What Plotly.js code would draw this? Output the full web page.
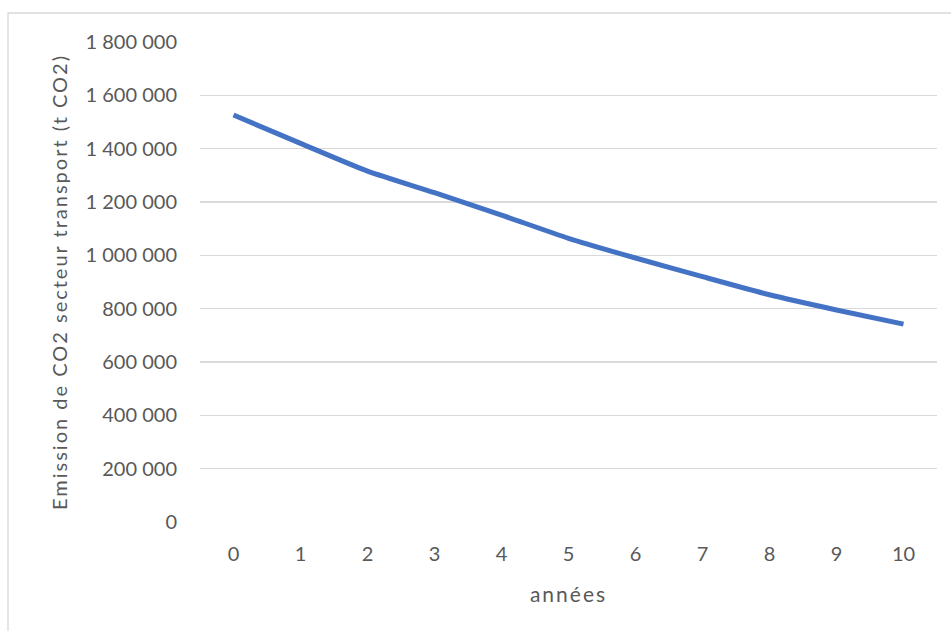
<!DOCTYPE html>
<html>
<head>
<meta charset="utf-8">
<script src="https://cdn.plot.ly/plotly-3.0.1.min.js"></script>
<style>
  html, body { margin: 0; padding: 0; background: #ffffff; }
  #chart { width: 951px; height: 631px; }
  /* wider tracking on the axis titles */
  #chart .ytitle { letter-spacing: 2px; }
  #chart .xtitle { letter-spacing: 2px; }
</style>
</head>
<body>
<div id="chart"></div>
<script>
// Years after the start of the plan
const years = [0, 1, 2, 3, 4, 5, 6, 7, 8, 9, 10];
// Transport-sector CO2 emissions, tonnes of CO2
const emissions = [1526000, 1420000, 1316000, 1235000, 1151000, 1064000, 990000, 920000, 852000, 795000, 742000];
// Y axis ticks
const yTicks = [0, 200000, 400000, 600000, 800000, 1000000, 1200000, 1400000, 1600000, 1800000];

const textColor = '#595959';
const gridColor = '#d9d9d9';
const fontFamily = 'Lato, "Open Sans", sans-serif';

const trace = {
  x: years,
  y: emissions,
  type: 'scatter',
  mode: 'lines',
  line: { color: '#4472C4', width: 5, shape: 'spline', smoothing: 0.6 },
  hoverinfo: 'x+y'
};

const layout = {
  width: 951,
  height: 631,
  margin: { l: 200, r: 14, t: 42, b: 109, pad: 0 },
  paper_bgcolor: '#ffffff',
  plot_bgcolor: '#ffffff',
  separators: ', ',
  showlegend: false,
  font: { family: fontFamily, color: textColor, size: 20 },
  xaxis: {
    range: [-0.5, 10.5],
    tickvals: years,
    ticktext: years.map(String),
    showgrid: false,
    zeroline: false,
    showline: false,
    ticks: '',
    ticklabelstandoff: 18,
    tickfont: { family: fontFamily, color: textColor, size: 20 },
    title: { text: 'années', font: { family: fontFamily, color: textColor, size: 21 }, standoff: 23 },
    automargin: true,
    fixedrange: true
  },
  yaxis: {
    range: [0, 1800000],
    tickvals: yTicks,
    tickformat: ',d',
    showgrid: true,
    gridcolor: gridColor,
    gridwidth: 1.3,
    zeroline: false,
    showline: false,
    ticks: '',
    ticklabelstandoff: 22,
    tickfont: { family: fontFamily, color: textColor, size: 20 },
    title: { text: 'Emission de CO2 secteur transport (t CO2)', font: { family: fontFamily, color: textColor, size: 20 }, standoff: 12 },
    automargin: true,
    fixedrange: true
  },
  shapes: [{
    type: 'rect', xref: 'paper', yref: 'paper',
    x0: -0.2605, x1: 1.03, y0: -0.25, y1: 1.0604,
    line: { color: gridColor, width: 1.3 },
    fillcolor: 'rgba(0,0,0,0)',
    layer: 'below'
  }]
};

Plotly.newPlot('chart', [trace], layout, { displayModeBar: false, staticPlot: true });
</script>
</body>
</html>
